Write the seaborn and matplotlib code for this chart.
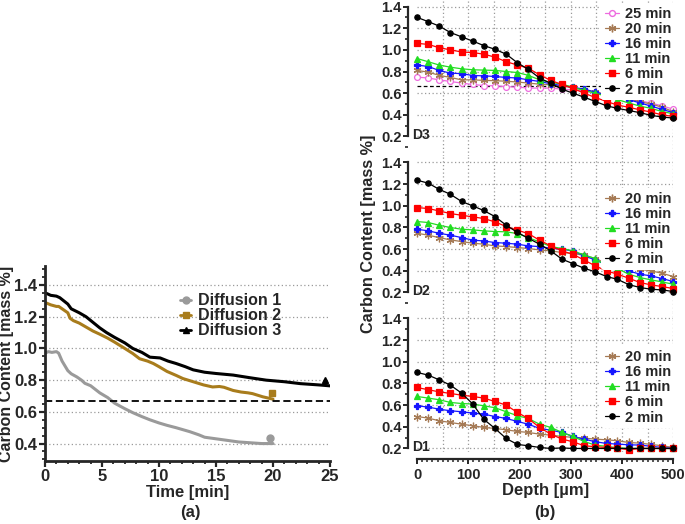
import numpy as np
import pandas as pd
import matplotlib
matplotlib.use("Agg")
import matplotlib.pyplot as plt
from matplotlib.lines import Line2D
from matplotlib.ticker import MultipleLocator
import seaborn as sns

# ---------------- panel (a): carbon content over time ----------------
t_diff1 = [0, 0.3, 0.6, 1.0, 1.2, 1.5, 2.0, 2.3, 2.8, 3.2, 3.5, 4.0, 4.8, 5.5, 6.1,
           7.0, 7.7, 8.5, 9.2, 10.0, 10.7, 11.5, 12.7, 13.5, 14.0, 15.0, 16.0, 17.0,
           18.0, 19.0, 20.0]
c_diff1 = [0.97, 0.98, 0.975, 0.98, 0.97, 0.92, 0.86, 0.84, 0.82, 0.80, 0.78, 0.765,
           0.72, 0.69, 0.655, 0.62, 0.595, 0.57, 0.55, 0.53, 0.515, 0.50, 0.475, 0.455,
           0.44, 0.43, 0.42, 0.41, 0.405, 0.40, 0.40]

t_diff2 = [0, 0.5, 1.0, 1.2, 1.6, 2.0, 2.2, 2.5, 3.0, 3.6, 4.2, 4.8, 5.5, 6.1, 7.0,
           7.7, 8.3, 9.0, 9.5, 10.0, 10.7, 11.5, 12.1, 13.0, 13.9, 14.7, 15.3, 15.7,
           16.5, 17.2, 17.8, 18.2, 19.1, 20.0]
c_diff2 = [1.29, 1.275, 1.265, 1.265, 1.245, 1.225, 1.19, 1.175, 1.16, 1.135, 1.11,
           1.09, 1.065, 1.04, 1.00, 0.968, 0.935, 0.92, 0.905, 0.885, 0.855, 0.83, 0.81,
           0.79, 0.77, 0.757, 0.76, 0.755, 0.735, 0.725, 0.72, 0.715, 0.695, 0.68]

t_diff3 = [0, 0.2, 0.5, 1.0, 1.3, 2.0, 2.3, 3.0, 3.6, 4.2, 4.8, 5.4, 6.1, 7.0, 7.7,
           8.5, 9.2, 10.1, 10.8, 11.5, 12.3, 13.0, 14.0, 15.0, 16.5, 18.0, 19.4, 21.0,
           22.4, 24.0, 25.0]
c_diff3 = [1.35, 1.345, 1.335, 1.33, 1.32, 1.28, 1.25, 1.225, 1.20, 1.165, 1.13, 1.10,
           1.07, 1.035, 1.00, 0.975, 0.945, 0.94, 0.92, 0.905, 0.885, 0.865, 0.85,
           0.842, 0.832, 0.815, 0.80, 0.79, 0.778, 0.77, 0.764]

# single measured points at the end of each run
end_t = [19.75, 19.95, 24.6]
end_c = [0.432, 0.722, 0.80]
diff_labels = ["Diffusion 1", "Diffusion 2", "Diffusion 3"]

limit_c = 0.67

# ---------------- panel (b): depth profiles ----------------
depth = [0, 22, 43, 65, 87, 109, 130, 152, 174, 196, 217, 239, 261, 283, 304, 326,
         348, 370, 391, 413, 435, 457, 478, 500]

# D3
d3_2 = [1.30, 1.26, 1.22, 1.16, 1.12, 1.08, 1.04, 1.005, 0.96, 0.88, 0.82, 0.74,
        0.69, 0.637, 0.60, 0.563, 0.523, 0.483, 0.46, 0.44, 0.42, 0.395, 0.38, 0.37]
d3_6 = [1.06, 1.05, 1.02, 1.00, 0.98, 0.975, 0.96, 0.933, 0.89, 0.86, 0.83, 0.77,
        0.717, 0.68, 0.645, 0.60, 0.56, 0.523, 0.49, 0.47, 0.446, 0.425, 0.40, 0.385]
d3_11 = [0.92, 0.89, 0.86, 0.84, 0.825, 0.816, 0.813, 0.81, 0.80, 0.79, 0.765, 0.723,
         0.70, 0.683, 0.655, 0.625, 0.60, 0.57, 0.54, 0.51, 0.48, 0.46, 0.43, 0.41]
d3_16 = [0.86, 0.846, 0.81, 0.785, 0.78, 0.763, 0.76, 0.754, 0.745, 0.74, 0.723,
         0.708, 0.686, 0.67, 0.655, 0.637, 0.61, 0.58, 0.56, 0.54, 0.51, 0.48, 0.45, 0.42]
d3_20 = [0.81, 0.794, 0.765, 0.745, 0.723, 0.723, 0.718, 0.715, 0.71, 0.703, 0.693,
         0.683, 0.677, 0.668, 0.65, 0.63, 0.61, 0.59, 0.57, 0.55, 0.52, 0.50, 0.47, 0.43]
d3_25 = [0.748, 0.74, 0.723, 0.708, 0.693, 0.68, 0.67, 0.668, 0.66, 0.656, 0.647,
         0.647, 0.647, 0.637, 0.63, 0.62, 0.60, 0.585, 0.569, 0.548, 0.53, 0.508,
         0.483, 0.452]

# D2
d2_2 = [1.237, 1.209, 1.153, 1.107, 1.04, 0.999, 0.957, 0.901, 0.821, 0.754, 0.701,
        0.646, 0.584, 0.507, 0.467, 0.424, 0.39, 0.347, 0.322, 0.273, 0.246, 0.23,
        0.224, 0.209]
d2_6 = [0.984, 0.975, 0.953, 0.929, 0.913, 0.898, 0.883, 0.852, 0.809, 0.775, 0.744,
        0.683, 0.63, 0.584, 0.553, 0.50, 0.445, 0.399, 0.369, 0.332, 0.292, 0.27,
        0.255, 0.236]
d2_11 = [0.855, 0.846, 0.821, 0.80, 0.784, 0.778, 0.769, 0.763, 0.76, 0.744, 0.707,
         0.667, 0.624, 0.606, 0.584, 0.547, 0.513, 0.445, 0.421, 0.369, 0.338, 0.316,
         0.298, 0.276]
d2_16 = [0.784, 0.769, 0.747, 0.729, 0.707, 0.683, 0.676, 0.661, 0.655, 0.646, 0.63,
         0.624, 0.609, 0.60, 0.584, 0.538, 0.50, 0.454, 0.43, 0.399, 0.369, 0.353,
         0.329, 0.301]
d2_20 = [0.747, 0.729, 0.707, 0.686, 0.67, 0.655, 0.646, 0.63, 0.624, 0.615, 0.606,
         0.593, 0.584, 0.569, 0.56, 0.544, 0.513, 0.47, 0.467, 0.44, 0.415, 0.399,
         0.378, 0.347]

# D1
d1_2 = [0.902, 0.877, 0.834, 0.785, 0.711, 0.609, 0.47, 0.385, 0.292, 0.237, 0.225,
        0.209, 0.20, 0.205, 0.20, 0.20, 0.20, 0.20, 0.20, 0.20, 0.20, 0.20, 0.20, 0.20]
d1_6 = [0.763, 0.742, 0.723, 0.708, 0.692, 0.68, 0.665, 0.634, 0.60, 0.532, 0.477,
        0.394, 0.332, 0.286, 0.262, 0.225, 0.216, 0.209, 0.203, 0.188, 0.20, 0.20,
        0.20, 0.20]
d1_11 = [0.68, 0.665, 0.65, 0.625, 0.615, 0.61, 0.594, 0.576, 0.539, 0.502, 0.477,
         0.424, 0.394, 0.348, 0.311, 0.265, 0.23, 0.22, 0.206, 0.20, 0.20, 0.20, 0.20,
         0.20]
d1_16 = [0.594, 0.582, 0.563, 0.548, 0.539, 0.526, 0.517, 0.495, 0.477, 0.449, 0.424,
         0.385, 0.369, 0.348, 0.311, 0.286, 0.262, 0.246, 0.24, 0.234, 0.231, 0.22,
         0.209, 0.203]
d1_20 = [0.495, 0.48, 0.456, 0.44, 0.424, 0.41, 0.394, 0.385, 0.372, 0.357, 0.348,
         0.332, 0.323, 0.311, 0.302, 0.295, 0.286, 0.28, 0.271, 0.255, 0.249, 0.237,
         0.225, 0.209]

panels = [
    ("D3", {"25 min": d3_25, "20 min": d3_20, "16 min": d3_16,
            "11 min": d3_11, "6 min": d3_6, "2 min": d3_2}),
    ("D2", {"20 min": d2_20, "16 min": d2_16, "11 min": d2_11,
            "6 min": d2_6, "2 min": d2_2}),
    ("D1", {"20 min": d1_20, "16 min": d1_16, "11 min": d1_11,
            "6 min": d1_6, "2 min": d1_2}),
]

# ---------------- styling ----------------
sns.set_style("ticks")
plt.rcParams["font.family"] = ["Liberation Sans", "DejaVu Sans"]
plt.rcParams["font.weight"] = "bold"
plt.rcParams["axes.labelweight"] = "bold"

diff_colors = ["#9a9a9a", "#a87c1c", "#000000"]
diff_markers = ["o", "s", "^"]

styles = {
    "25 min": dict(color="#ee6adf", marker="o", mfc="white", ms=4.2),
    "20 min": dict(color="#a57a55", marker=(6, 2, 0), mfc="#a57a55", ms=5.5),
    "16 min": dict(color="#1515ff", marker="P", mfc="#1515ff", ms=4.2),
    "11 min": dict(color="#22dd22", marker="^", mfc="#22dd22", ms=4.2),
    "6 min": dict(color="#ff0000", marker="s", mfc="#ff0000", ms=4.0),
    "2 min": dict(color="#000000", marker="o", mfc="#000000", ms=3.8),
}

grid_kw = dict(color="#9a9a9a", linestyle=(0, (1, 2)), linewidth=0.9)

W, H = 685, 524
fig = plt.figure(figsize=(W / 100, H / 100), dpi=100)

# ---------------- panel (a) ----------------
axa = fig.add_axes([45 / W, 1 - 461 / H, 285 / W, 195 / H])
for t, c, col in zip([t_diff1, t_diff2, t_diff3], [c_diff1, c_diff2, c_diff3], diff_colors):
    sns.lineplot(x=t, y=c, ax=axa, color=col, lw=2.2, legend=False)
for tx, cy, col, mk in zip(end_t, end_c, diff_colors, diff_markers):
    axa.plot(tx, cy, marker=mk, color=col, ms=5, ls="none", clip_on=False)
axa.axhline(limit_c, color="black", ls=(0, (4, 2)), lw=1.3)

axa.set_xlim(0, 25)
axa.set_ylim(0.29, 1.52)
axa.xaxis.set_major_locator(MultipleLocator(5))
axa.xaxis.set_minor_locator(MultipleLocator(1))
axa.set_yticks([0.4, 0.6, 0.8, 1.0, 1.2, 1.4])
axa.yaxis.set_minor_locator(MultipleLocator(0.05))
axa.yaxis.grid(True, **grid_kw)
axa.set_axisbelow(True)
for s in ["top", "right"]:
    axa.spines[s].set_visible(False)
for s in ["left", "bottom"]:
    axa.spines[s].set_linewidth(2)
axa.tick_params(which="major", length=4, width=1.6, labelsize=12, pad=1.5)
axa.tick_params(which="minor", length=2.5, width=1.3)
axa.set_xlabel("Time [min]", fontsize=12, labelpad=1)
axa.set_ylabel("Carbon Content [mass %]", fontsize=11.5, labelpad=0)

leg_handles = [Line2D([], [], color=col, marker=mk, lw=2, ms=5)
               for col, mk in zip(diff_colors, diff_markers)]
axa.legend(leg_handles, diff_labels, loc="upper left", bbox_to_anchor=(0.44, 0.91),
           frameon=False, fontsize=11.5, handlelength=0.7, handletextpad=0.4,
           labelspacing=0.0, borderpad=0.1)

# ---------------- panel (b) ----------------
left_b = 417 / W
width_b = 256.3 / W
rows = [(0, 156, 0.02), (156, 312, 0.02), (312, 451.7, 0.17)]
legend_top = {"D3": 0.98, "D2": 0.795, "D1": 0.755}
axes_b = []
for (name, series), (top_px, bot_px, ylo) in zip(panels, rows):
    ax = fig.add_axes([left_b, 1 - bot_px / H, width_b, (bot_px - top_px) / H])
    axes_b.append(ax)
    for gx in range(50, 501, 50):
        ax.axvline(gx, zorder=0, **grid_kw)
    for label, vals in series.items():
        st = styles[label]
        sns.lineplot(x=depth, y=vals, ax=ax, color=st["color"], lw=0.9,
                     marker=st["marker"], ms=st["ms"], markerfacecolor=st["mfc"],
                     markeredgecolor=st["color"], markeredgewidth=0.9,
                     clip_on=False, legend=False)
    ax.set_xlim(0, 500)
    ax.set_ylim(ylo, 1.46)
    ax.set_yticks([0.2, 0.4, 0.6, 0.8, 1.0, 1.2, 1.4])
    ax.yaxis.set_minor_locator(MultipleLocator(0.1))
    ax.yaxis.grid(True, **grid_kw)
    ax.get_ygridlines()[-1].set_visible(False)
    ax.set_axisbelow(True)
    ax.spines["left"].set_bounds(0.2, 1.4)
    ax.spines["left"].set_position(("outward", 6.5))
    ax.spines["left"].set_linewidth(1.6)
    for s in ["top", "right"]:
        ax.spines[s].set_visible(False)
    ax.tick_params(axis="y", which="major", length=3.5, width=1.4, labelsize=10.5, pad=1)
    ax.tick_params(axis="y", which="minor", length=2.2, width=1.2)
    ax.set_ylabel("")
    ax.text(-10, 0.215, name, ha="left", va="center", fontsize=10)
    handles = [Line2D([], [], color=styles[k]["color"], marker=styles[k]["marker"],
                      ms=styles[k]["ms"], mfc=styles[k]["mfc"], mec=styles[k]["color"],
                      lw=0.9) for k in series]
    ax.legend(handles, list(series.keys()), loc="upper right",
              bbox_to_anchor=(1.005, legend_top[name]),
              frameon=True, facecolor="white", edgecolor="none", framealpha=1,
              fontsize=10.5, handlelength=1.0, handletextpad=0.35, labelspacing=0.08,
              borderpad=0.25, borderaxespad=0.0)
    if name != "D1":
        ax.spines["bottom"].set_visible(False)
        ax.tick_params(axis="x", which="both", bottom=False, labelbottom=False)
    else:
        ax.spines["bottom"].set_position(("outward", 5))
        ax.spines["bottom"].set_linewidth(1.6)
        ax.xaxis.set_major_locator(MultipleLocator(100))
        ax.xaxis.set_minor_locator(MultipleLocator(10))
        ax.tick_params(axis="x", which="major", length=3.5, width=1.4, labelsize=10.5, pad=3)
        ax.tick_params(axis="x", which="minor", length=2.5, width=1.1)
        ax.set_xlabel("Depth [\u00b5m]", fontsize=12, labelpad=1)

axes_b[0].axhline(limit_c, color="black", ls=(0, (3, 2)), lw=0.9, zorder=1)
axes_b[1].set_ylabel("Carbon Content [mass %]", fontsize=11.7, labelpad=4)

fig.text(190 / W, 1 - 512 / H, "(a)", ha="center", va="center", fontsize=12)
fig.text(545 / W, 1 - 512 / H, "(b)", ha="center", va="center", fontsize=12)

fig.savefig("out.png", dpi=100)
